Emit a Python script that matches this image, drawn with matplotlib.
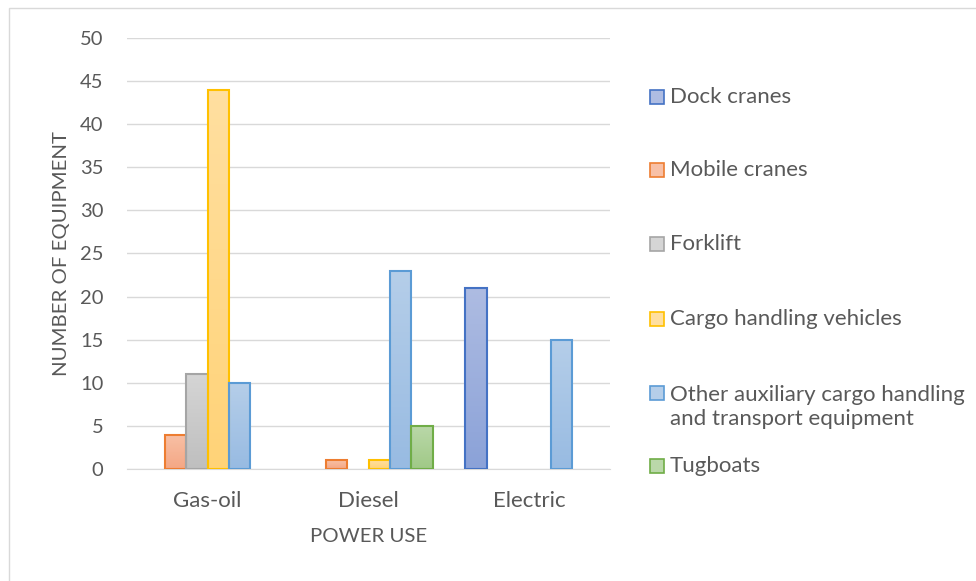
import numpy as np
import matplotlib.pyplot as plt
from matplotlib.patches import Rectangle
from matplotlib.colors import LinearSegmentedColormap

# data
categories = ['Gas-oil', 'Diesel', 'Electric']
series = ['Dock cranes', 'Mobile cranes', 'Forklift', 'Cargo handling vehicles',
          'Other auxiliary cargo handling\nand transport equipment', 'Tugboats']
dock_cranes = [0, 0, 21]
mobile_cranes = [4, 1, 0]
forklift = [11, 0, 0]
cargo_vehicles = [44, 1, 0]
other_aux = [10, 23, 15]
tugboats = [0, 5, 0]
values = [dock_cranes, mobile_cranes, forklift, cargo_vehicles, other_aux, tugboats]

# (edge, top fill, bottom fill)
styles = [
    ('#4472C4', '#AEBCE2', '#8BA2D8'),
    ('#ED7D31', '#F8C0A6', '#F4A784'),
    ('#A5A5A5', '#D5D5D5', '#BFBFBF'),
    ('#FFC000', '#FFDFA0', '#FFD378'),
    ('#5B9BD5', '#B5CEE9', '#98BBE2'),
    ('#70AD47', '#BAD8A9', '#A0C987'),
]

text_col = '#595959'
plt.rcParams['font.family'] = ['Lato', 'DejaVu Sans']

fig = plt.figure(figsize=(9.76, 5.81), dpi=100)
# outer chart border, only top and left edges fall inside the image
fig.patches.append(Rectangle((9 / 976, -0.05), 1.1, 1.05 - 8 / 581, transform=fig.transFigure,
                             fill=False, edgecolor='#D9D9D9', linewidth=1))
ax = fig.add_axes([127 / 976, 1 - 469 / 581, 483 / 976, 431 / 581])

n = len(series)
gap = 1.5
bw = 1.0 / (n + gap)
x = np.arange(len(categories))

for i, (vals, (ec, top, bot)) in enumerate(zip(values, styles)):
    offs = x - n * bw / 2 + (i + 0.5) * bw
    edges = [ec if v > 0 else 'none' for v in vals]
    bars = ax.bar(offs, vals, width=bw, facecolor='none', edgecolor=edges, linewidth=1.5, zorder=3)
    cmap = LinearSegmentedColormap.from_list('g%d' % i, [bot, top])
    grad = np.linspace(0, 1, 64).reshape(-1, 1)
    for b, v in zip(bars, vals):
        if v <= 0:
            continue
        bx, by = b.get_x(), b.get_y()
        im = ax.imshow(grad, cmap=cmap, origin='lower', aspect='auto',
                       extent=(bx, bx + bw, by, by + v), zorder=2)
        im.set_clip_path(b)

ax.set_xlim(-0.5, len(categories) - 0.5)
ax.set_ylim(0, 50)
ax.set_yticks(range(0, 51, 5))
ax.set_xticks(x)
ax.set_xticklabels(categories)
ax.yaxis.grid(True, color='#D9D9D9', linewidth=1, zorder=0)
ax.set_axisbelow(True)
for s in ['top', 'right', 'left']:
    ax.spines[s].set_visible(False)
ax.spines['bottom'].set_color('#D9D9D9')
ax.tick_params(axis='both', length=0, colors=text_col)
ax.tick_params(axis='y', pad=17, labelsize=14.5)
ax.tick_params(axis='x', pad=16, labelsize=16)
ax.set_ylabel('NUMBER OF EQUIPMENT', fontsize=14.7, color=text_col, labelpad=7)
ax.set_xlabel('POWER USE', fontsize=14.7, color=text_col, labelpad=12)

# legend drawn by hand to match the spread-out layout
leg_y = [97, 170, 244, 319, 407, 466]
box_y = [97, 170, 244, 319, 393, 466]
for lab, (ec, top, bot), yy, by in zip(series, styles, leg_y, box_y):
    fig.patches.append(Rectangle((650 / 976, 1 - (by + 7) / 581), 14 / 976, 14 / 581,
                                 transform=fig.transFigure, facecolor=top,
                                 edgecolor=ec, linewidth=1.2))
    fig.text(670 / 976, 1 - yy / 581, lab, fontsize=16, color=text_col,
             va='center', ha='left', linespacing=1.3)

fig.savefig('out.png', dpi=100)
